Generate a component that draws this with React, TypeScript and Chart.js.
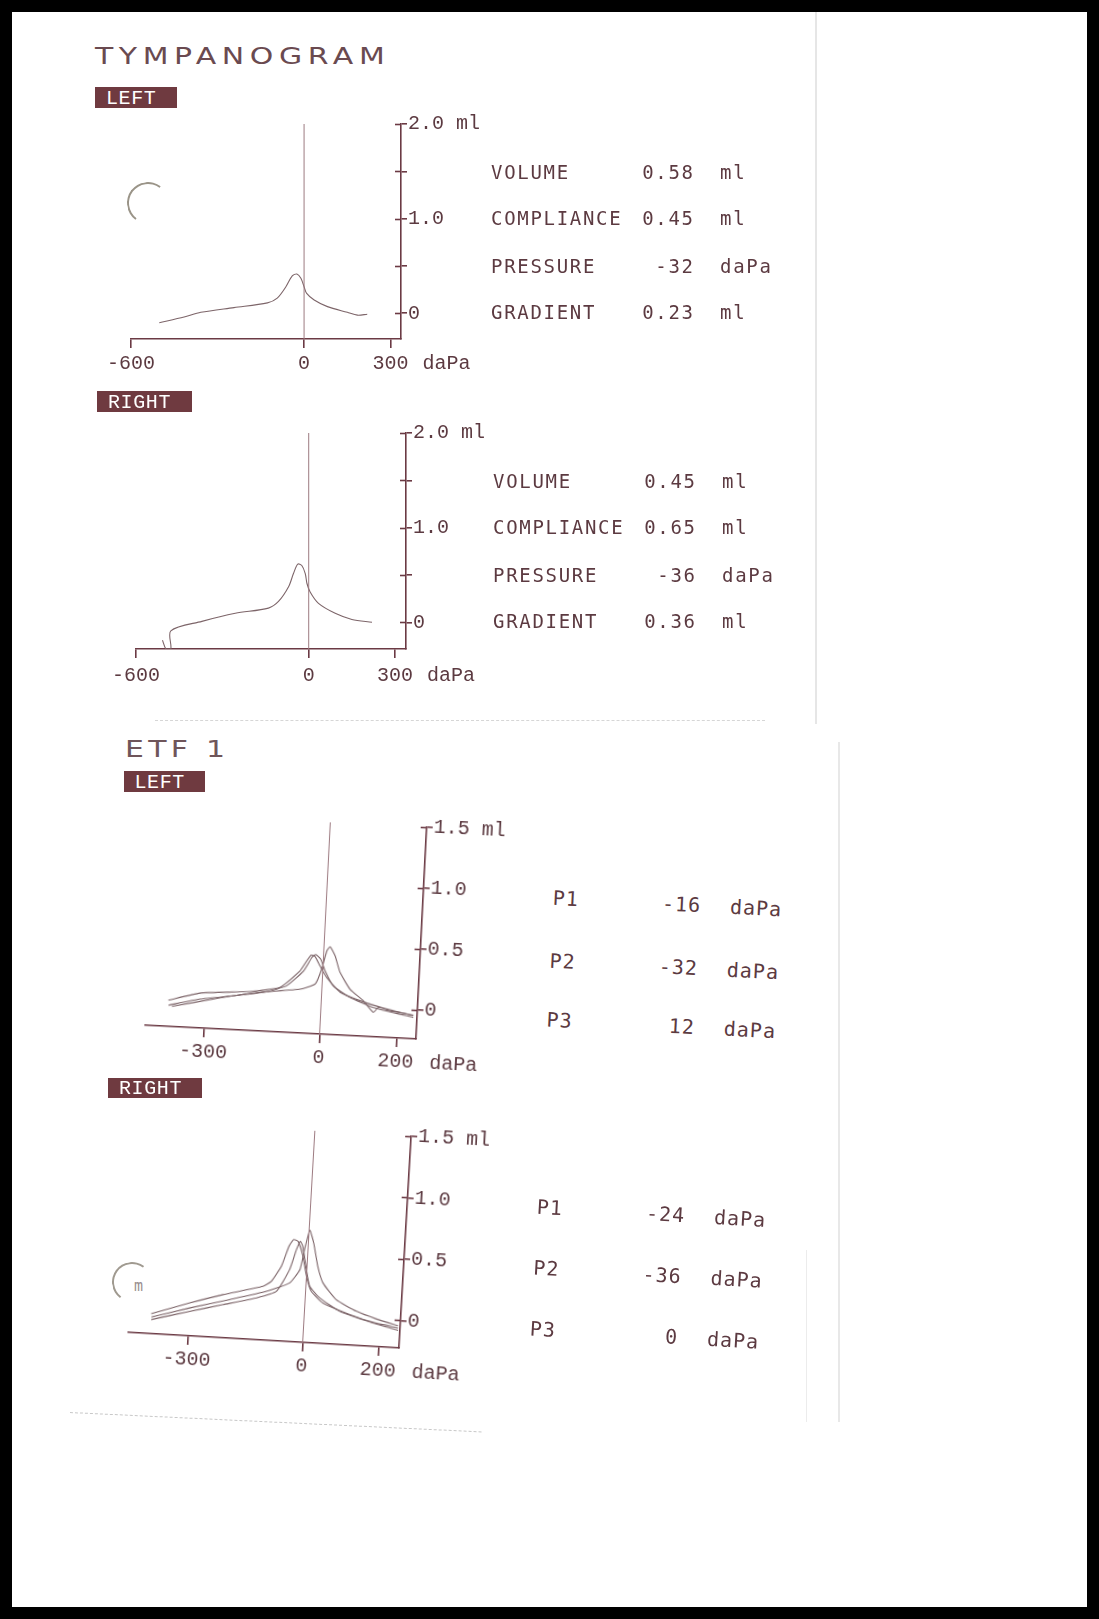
import React, { useEffect, useRef } from 'react';
import { Chart, registerables } from 'chart.js';

Chart.register(...registerables);

// ---------------- data ----------------
const tympXTicks = [-600, 0, 300];
const tympYTicks = [0, 0.5, 1.0, 1.5, 2.0];
const tympYLabels = ['0', '', '1.0', '', '2.0 ml'];
const etfXTicks = [-300, 0, 200];
const etfYTicks = [0, 0.5, 1.0, 1.5];
const etfYLabels = ['0', '0.5', '1.0', '1.5 ml'];
const pressureUnit = 'daPa';

const tympLeftPressure = [-502, -416, -358, -243, -127, -93, -63, -41, -25, -11, 0, 9, 35, 81, 150, 185, 219];
const tympLeftVolume = [-0.1, -0.04, 0.01, 0.06, 0.11, 0.16, 0.28, 0.395, 0.415, 0.37, 0.28, 0.21, 0.14, 0.07, 0.01, -0.02, -0.01];

const tympRightPressure = [-508, -496, -479, -479, -371, -255, -140, -105, -70, -53, -38, -24, -12, -6, 5, 34, 92, 150, 220];
const tympRightVolume = [-0.19, -0.28, -0.28, -0.09, 0.01, 0.095, 0.15, 0.22, 0.375, 0.515, 0.615, 0.6, 0.515, 0.41, 0.32, 0.2, 0.095, 0.03, 0.0];

const etfL1Pressure = [-397, -316, -186, -109, -59, -43, -32, -22, -8, 11, 48, 101, 162, 241];
const etfL1Volume = [-0.025, 0.046, 0.08, 0.126, 0.27, 0.355, 0.404, 0.395, 0.32, 0.227, 0.11, 0.05, 0.0, -0.05];
const etfL2Pressure = [-396, -315, -229, -143, -92, -50, -30, -20, -7, 6, 29, 74, 136, 241];
const etfL2Volume = [-0.066, -0.003, 0.038, 0.085, 0.142, 0.27, 0.385, 0.41, 0.375, 0.28, 0.16, 0.073, 0.0, -0.065];
const etfL3Pressure = [-387, -271, -160, -56, -18, -3, 8, 16, 30, 45, 73, 109, 137, 149, 180, 241];
const etfL3Volume = [-0.075, 0.01, 0.077, 0.12, 0.168, 0.293, 0.445, 0.48, 0.408, 0.274, 0.141, 0.051, -0.04, 0.003, -0.02, -0.046];

const etfR1Pressure = [-399, -300, -215, -112, -91, -67, -50, -39, -27, -12, 0, 15, 47, 119, 180, 246];
const etfR1Volume = [-0.062, 0.043, 0.126, 0.212, 0.256, 0.383, 0.55, 0.606, 0.594, 0.474, 0.314, 0.194, 0.105, 0.023, -0.029, -0.063];
const etfR2Pressure = [-398, -299, -213, -127, -76, -45, -30, -21, -14, -1, 10, 38, 92, 180, 247];
const etfR2Volume = [-0.11, -0.025, 0.045, 0.115, 0.178, 0.36, 0.526, 0.595, 0.556, 0.368, 0.234, 0.144, 0.045, -0.034, -0.082];
const etfR3Pressure = [-398, -300, -197, -102, -43, -18, -9, 2, 14, 28, 44, 81, 136, 189, 246];
const etfR3Volume = [-0.089, 0.002, 0.089, 0.173, 0.252, 0.365, 0.53, 0.689, 0.588, 0.4, 0.268, 0.138, 0.053, 0.0, -0.044];

const statLabels = ['VOLUME', 'COMPLIANCE', 'PRESSURE', 'GRADIENT'];
const statUnits = ['ml', 'ml', 'daPa', 'ml'];
const tympLeftStats = ['0.58', '0.45', '-32', '0.23'];
const tympRightStats = ['0.45', '0.65', '-36', '0.36'];
const etfPLabels = ['P1', 'P2', 'P3'];
const etfLeftP = ['-16', '-32', '12'];
const etfRightP = ['-24', '-36', '0'];

// ---------------- styles ----------------
const TEXT = '#5c3a41';
const AXIS = '#6b3a44';
const CURVE = '#7d6569';
const ZERO = '#9c7a80';
const BOX = '#6f3a40';

const FONTS: any = {
  dvm: { family: '"DejaVu Sans Mono", monospace', k: 0.846 },
  lm: { family: '"Liberation Mono", monospace', k: 0.7665 },
  dv: { family: '"DejaVu Sans", sans-serif', k: 0.846 },
};

const axisDecor = {
  id: 'axisDecor',
  afterDraw(chart: any, _args: any, o: any) {
    const ctx = chart.ctx;
    const ys = chart.scales.y;
    const xs = chart.scales.x;
    const ax = chart.chartArea.right;
    ctx.save();
    ctx.strokeStyle = AXIS;
    ctx.lineWidth = 1.6;
    ys.ticks.forEach((t: any) => {
      const py = Math.round(ys.getPixelForValue(t.value)) + 0.5;
      ctx.beginPath();
      ctx.moveTo(ax - 6, py);
      ctx.lineTo(ax, py);
      ctx.stroke();
    });
    let items: any[] = [];
    try { items = xs.getLabelItems ? xs.getLabelItems() : []; } catch (e) { items = []; }
    const last = items[items.length - 1];
    ctx.fillStyle = TEXT;
    ctx.textAlign = 'left';
    if (last) {
      ctx.font = last.font.string;
      const w = ctx.measureText(String(last.label)).width;
      ctx.textBaseline = last.options.textBaseline || 'middle';
      ctx.fillText(pressureUnit, last.options.translation[0] + w / 2 + o.gap, last.options.translation[1] + (last.textOffset || 0));
    }
    ctx.restore();
  },
};

function buildConfig(p: any) {
  const datasets: any[] = p.curves.map((c: any) => ({
    data: c.x.map((x: number, i: number) => ({ x, y: c.y[i] })),
    borderColor: CURVE,
    borderWidth: 1.1,
    pointRadius: 0,
    tension: p.tension,
    fill: false,
  }));
  datasets.unshift({
    data: [{ x: 0, y: p.yMin }, { x: 0, y: p.yMax }],
    borderColor: ZERO,
    borderWidth: 1,
    pointRadius: 0,
    tension: 0,
    fill: false,
  });
  const font = { family: '"Liberation Mono", monospace', size: 20 };
  return {
    type: 'line',
    data: { datasets },
    options: {
      animation: false,
      responsive: false,
      devicePixelRatio: 1,
      events: [],
      layout: { autoPadding: false, padding: { left: p.padL, top: p.padT, right: 0, bottom: 0 } },
      plugins: { legend: { display: false }, tooltip: { enabled: false }, axisDecor: { gap: p.unitGap } },
      scales: {
        x: {
          type: 'linear',
          position: 'bottom',
          min: p.xMin,
          max: p.xMax,
          afterBuildTicks: (s: any) => { s.ticks = p.xTicks.map((v: number) => ({ value: v })); },
          afterFit: (s: any) => { s.height = p.xAxisH; },
          border: { display: true, color: AXIS, width: 1.6 },
          grid: { display: true, drawOnChartArea: false, drawTicks: true, tickLength: 9, color: AXIS, lineWidth: 1.6 },
          ticks: { color: TEXT, font, padding: p.xPad, maxRotation: 0, minRotation: 0, autoSkip: false, callback: (v: any) => String(v) },
        },
        y: {
          type: 'linear',
          position: 'right',
          min: p.yMin,
          max: p.yMax,
          afterBuildTicks: (s: any) => { s.ticks = p.yTicks.map((v: number) => ({ value: v })); },
          afterFit: (s: any) => { s.width = p.yAxisW; },
          border: { display: true, color: AXIS, width: 1.6 },
          grid: { display: true, drawOnChartArea: false, drawTicks: true, tickLength: 6, color: AXIS, lineWidth: 1.6 },
          ticks: { color: TEXT, font, padding: 1, autoSkip: false, callback: (_v: any, i: number) => p.yLabels[i] ?? '' },
        },
      },
    },
    plugins: [axisDecor],
  };
}

function ChartCanvas({ cfg, left, top, width, height }: any) {
  const ref = useRef<HTMLCanvasElement>(null);
  useEffect(() => {
    const chart = new Chart(ref.current as HTMLCanvasElement, buildConfig(cfg) as any);
    return () => chart.destroy();
  }, []);
  return <canvas ref={ref} width={width} height={height} style={{ position: 'absolute', left, top, width, height }} />;
}

function Txt({ x, base, size, font, color = TEXT, ls = 0, align = 'left', weight = 400, sx = 1, children }: any) {
  const f = FONTS[font];
  let transform: string | undefined;
  if (align === 'right') transform = 'translateX(-100%)';
  else if (sx !== 1) transform = `scaleX(${sx})`;
  return (
    <div
      style={{
        position: 'absolute',
        left: align === 'right' ? x + ls : x,
        top: base - f.k * size,
        fontFamily: f.family,
        fontSize: size,
        lineHeight: size + 'px',
        color,
        letterSpacing: ls,
        whiteSpace: 'pre',
        fontWeight: weight,
        transform,
        transformOrigin: '0 50%',
      }}
    >
      {children}
    </div>
  );
}

function LabelBox({ x, y, w, h, text }: any) {
  return (
    <>
      <div style={{ position: 'absolute', left: x, top: y, width: w, height: h, background: BOX }} />
      <Txt x={x + 11} base={y + h / 2 + 6.5} size={20} font="lm" color="#ffffff" ls={0.6}>{text}</Txt>
    </>
  );
}

function Stats({ x, vRight, uX, bases, values }: any) {
  return (
    <>
      {statLabels.map((lab, i) => (
        <React.Fragment key={lab}>
          <Txt x={x} base={bases[i]} size={19} font="dvm" ls={1.7}>{lab}</Txt>
          <Txt x={vRight} base={bases[i]} size={19} font="dvm" ls={1.7} align="right">{values[i]}</Txt>
          <Txt x={uX} base={bases[i]} size={19} font="dvm" ls={1.7}>{statUnits[i]}</Txt>
        </React.Fragment>
      ))}
    </>
  );
}

function EtfPanel({ ox, oy, angle, cfg, values, bases }: any) {
  return (
    <div
      style={{
        position: 'absolute',
        left: ox - 300,
        top: oy - 260,
        width: 720,
        height: 330,
        transformOrigin: '300px 260px',
        transform: `rotate(${angle}deg)`,
      }}
    >
      <ChartCanvas left={9} top={28} width={401} height={292} cfg={cfg} />
      {etfPLabels.map((lab, i) => (
        <React.Fragment key={lab}>
          <Txt x={429.5} base={bases[i]} size={20} font="dvm" ls={1.0}>{lab}</Txt>
          <Txt x={577} base={bases[i]} size={20} font="dvm" ls={1.0} align="right">{values[i]}</Txt>
          <Txt x={607} base={bases[i]} size={20} font="dvm" ls={1.0}>{pressureUnit}</Txt>
        </React.Fragment>
      ))}
    </div>
  );
}

const tympLeftCfg = {
  curves: [{ x: tympLeftPressure, y: tympLeftVolume }],
  xMin: -600, xMax: 336, yMin: -0.272, yMax: 2.0,
  xTicks: tympXTicks, yTicks: tympYTicks, yLabels: tympYLabels,
  padL: 40, padT: 24, xAxisH: 60, yAxisW: 120, xPad: 4, unitGap: 14, tension: 0.3,
};
const tympRightCfg = {
  curves: [{ x: tympRightPressure, y: tympRightVolume }],
  xMin: -600, xMax: 338, yMin: -0.282, yMax: 2.0,
  xTicks: tympXTicks, yTicks: tympYTicks, yLabels: tympYLabels,
  padL: 40, padT: 24, xAxisH: 60, yAxisW: 120, xPad: 6, unitGap: 14, tension: 0.3,
};
const etfLeftCfg = {
  curves: [
    { x: etfL1Pressure, y: etfL1Volume },
    { x: etfL2Pressure, y: etfL2Volume },
    { x: etfL3Pressure, y: etfL3Volume },
  ],
  xMin: -453.6, xMax: 251, yMin: -0.2406, yMax: 1.5,
  xTicks: etfXTicks, yTicks: etfYTicks, yLabels: etfYLabels,
  padL: 20, padT: 20, xAxisH: 60, yAxisW: 110, xPad: 3, unitGap: 16, tension: 0.15,
};
const etfRightCfg = {
  curves: [
    { x: etfR1Pressure, y: etfR1Volume },
    { x: etfR2Pressure, y: etfR2Volume },
    { x: etfR3Pressure, y: etfR3Volume },
  ],
  xMin: -455.6, xMax: 252, yMin: -0.225, yMax: 1.5,
  xTicks: etfXTicks, yTicks: etfYTicks, yLabels: etfYLabels,
  padL: 20, padT: 20, xAxisH: 60, yAxisW: 110, xPad: 3, unitGap: 16, tension: 0.15,
};

export default function App() {
  return (
    <div
      style={{
        position: 'absolute',
        left: 0,
        top: 0,
        width: 1099,
        height: 1619,
        background: '#ffffff',
        boxShadow: 'inset 0 0 0 12px #000',
        overflow: 'hidden',
      }}
    >
      {/* faint scan edges */}
      <div style={{ position: 'absolute', left: 815, top: 12, width: 1.5, height: 712, background: '#e6e6e6' }} />
      <div style={{ position: 'absolute', left: 838, top: 742, width: 1.5, height: 680, background: '#e8e8e8' }} />
      <div style={{ position: 'absolute', left: 806, top: 1250, width: 1, height: 172, background: '#ececec' }} />
      <div style={{ position: 'absolute', left: 155, top: 720, width: 610, height: 0, borderTop: '1px dashed #d6d6d6' }} />
      <div style={{ position: 'absolute', left: 70, top: 1412, width: 412, height: 0, borderTop: '1.5px dashed #c8c8c8', transform: 'rotate(2.7deg)', transformOrigin: '0 0' }} />
      {/* hole-punch crescents */}
      <div style={{ position: 'absolute', left: 127, top: 182, width: 38, height: 38, borderRadius: '50%', borderTop: '2px solid #9a9488', borderLeft: '2px solid #9a9488', borderRight: '2px solid transparent', borderBottom: '2px solid transparent', transform: 'rotate(-8deg)' }} />
      <div style={{ position: 'absolute', left: 112, top: 1262, width: 36, height: 36, borderRadius: '50%', borderTop: '2px solid #a09a90', borderLeft: '2px solid #a09a90', borderRight: '2px solid transparent', borderBottom: '2px solid transparent', transform: 'rotate(-8deg)' }} />
      <Txt x={134} base={1292} size={15} font="dvm" color="#9a8f90">m</Txt>

      {/* TYMPANOGRAM */}
      <Txt x={95} base={64} size={23} font="dv" ls={4.3} sx={1.3} weight={400} color="#6a4a50">TYMPANOGRAM</Txt>
      <LabelBox x={95} y={87} w={82} h={21} text="LEFT" />
      <ChartCanvas left={91} top={100} width={430} height={299} cfg={tympLeftCfg} />
      <Stats x={491} vRight={693} uX={720} bases={[179, 225.3, 272.7, 318.7]} values={tympLeftStats} />

      <LabelBox x={97} y={391} w={95} h={21} text="RIGHT" />
      <ChartCanvas left={96} top={409} width={430} height={300} cfg={tympRightCfg} />
      <Stats x={493} vRight={695} uX={722} bases={[488, 534.3, 581.7, 627.7]} values={tympRightStats} />

      {/* ETF 1 */}
      <Txt x={124.5} base={757} size={23} font="dv" ls={3.3} sx={1.3} weight={400} color="#6f555a">ETF 1</Txt>
      <LabelBox x={123.5} y={771} w={81} h={21} text="LEFT" />
      <EtfPanel ox={416} oy={1039} angle={2.9} cfg={etfLeftCfg} values={etfLeftP} bases={[119, 182, 241]} />

      <LabelBox x={108} y={1078} w={94} h={20} text="RIGHT" />
      <EtfPanel ox={399} oy={1348} angle={3.3} cfg={etfRightCfg} values={etfRightP} bases={[117.6, 179.4, 239.5]} />
    </div>
  );
}
